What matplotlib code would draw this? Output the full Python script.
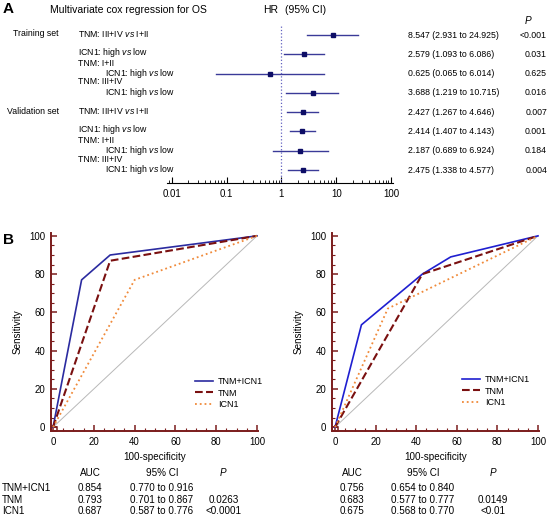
import matplotlib
matplotlib.use("Agg")
import matplotlib.pyplot as plt
from matplotlib.patches import Rectangle
from matplotlib.ticker import MultipleLocator, LogLocator, NullFormatter, FixedLocator

plt.rcParams['font.family'] = ['Liberation Sans', 'DejaVu Sans']
plt.rcParams['mathtext.fontset'] = 'custom'
plt.rcParams['mathtext.rm'] = 'Liberation Sans'
plt.rcParams['mathtext.it'] = 'Liberation Sans:italic'

# forest plot data (multivariate cox regression)
hr = [8.547, 2.579, 0.625, 3.688, 2.427, 2.414, 2.187, 2.475]
hr_lo = [2.931, 1.093, 0.065, 1.219, 1.267, 1.407, 0.689, 1.338]
hr_hi = [24.925, 6.086, 6.014, 10.715, 4.646, 4.143, 6.924, 4.577]
hr_p = ['<0.001', '0.031', '0.625', '0.016', '0.007', '0.001', '0.184', '0.004']
set_names = ['Training set', 'Validation set']
row_labels = [r'TNM: III+IV $\it{vs}$ I+II', r'ICN1: high $\it{vs}$ low',
              r'ICN1: high $\it{vs}$ low', r'ICN1: high $\it{vs}$ low']
sub_labels = ['TNM: I+II', 'TNM: III+IV']

# ROC curves (100-specificity, sensitivity)
roc_left = {
    'TNM+ICN1': ([0, 14, 28, 100], [0, 77, 90, 100]),
    'TNM': ([0, 28, 100], [0, 87, 100]),
    'ICN1': ([0, 40, 100], [0, 77, 100]),
}
roc_right = {
    'TNM+ICN1': ([0, 13, 43, 57, 100], [0, 53.5, 80, 89, 100]),
    'TNM': ([0, 43, 100], [0, 80, 100]),
    'ICN1': ([0, 26, 100], [0, 62, 100]),
}
auc_names = ['TNM+ICN1', 'TNM', 'ICN1']
auc_left = ['0.854', '0.793', '0.687']
ci_left = ['0.770 to 0.916', '0.701 to 0.867', '0.587 to 0.776']
p_left = ['', '0.0263', '<0.0001']
auc_right = ['0.756', '0.683', '0.675']
ci_right = ['0.654 to 0.840', '0.577 to 0.777', '0.568 to 0.770']
p_right = ['', '0.0149', '<0.01']

W, H = 548, 527
fig = plt.figure(figsize=(W / 100, H / 100), dpi=100)


def fx(x):
    return x / W


def fy(y):
    return 1 - y / H


def txt(x, y, s, **kw):
    kw.setdefault('fontsize', 6.3)
    kw.setdefault('va', 'center')
    fig.text(fx(x), fy(y), s, **kw)


# ---------- A: forest plot ----------
txt(3, 9, 'A', fontsize=11, fontweight='bold')
txt(50, 10, 'Multivariate cox regression for OS', fontsize=7.5)
txt(263, 10, 'HR', fontsize=7.5)
txt(285, 10, '(95% CI)', fontsize=7.5)
txt(528, 21, 'P', fontstyle='italic', ha='center', fontsize=7.2)

row_y = [35 + 19.3 * i for i in range(8)]
ax = fig.add_axes([fx(167), fy(183), fx(393) - fx(167), fy(25) - fy(183)])
ax.set_xscale('log')
ax.set_xlim(0.00811, 108.8)
ax.set_ylim(7.67, -0.52)
for i in range(8):
    ax.plot([hr_lo[i], hr_hi[i]], [i, i], color='#3a3a98', lw=1.0)
    ax.plot(hr[i], i, marker='s', ms=3.3, color='#0d0d66', ls='none')
ax.axvline(1, color='#6060c0', lw=0.9, ls=':')
for s in ['top', 'right', 'left']:
    ax.spines[s].set_visible(False)
ax.spines['bottom'].set_linewidth(0.8)
ax.set_yticks([])
ax.xaxis.set_major_locator(FixedLocator([0.01, 0.1, 1, 10, 100]))
ax.set_xticklabels(['0.01', '0.1', '1', '10', '100'])
ax.xaxis.set_minor_locator(LogLocator(base=10, subs=range(2, 10), numticks=20))
ax.xaxis.set_minor_formatter(NullFormatter())
ax.tick_params(axis='x', which='major', direction='in', length=4, width=0.8, labelsize=7, pad=4)
ax.tick_params(axis='x', which='minor', direction='in', length=2, width=0.6)

for k in range(2):
    r = row_y[4 * k:4 * k + 4]
    txt(13 if k == 0 else 7, r[0] - 1, set_names[k])
    txt(78, r[0] - 1, row_labels[0])
    txt(78, r[1] - 2, row_labels[1])
    txt(78, r[2] - 10, sub_labels[0])
    txt(105, r[2] - 0.5, row_labels[2])
    txt(78, r[3] - 11, sub_labels[1])
    txt(105, r[3] - 0.5, row_labels[3])

for i in range(8):
    txt(408, row_y[i], '%.3f (%.3f to %.3f)' % (hr[i], hr_lo[i], hr_hi[i]))
    txt(547, row_y[i], hr_p[i], ha='right')

# ---------- B: ROC curves ----------
txt(3, 240, 'B', fontsize=11, fontweight='bold')

spine_col = '#7b1c1c'
colors = {'TNM+ICN1': '#2b2ba0', 'TNM': '#7a1010', 'ICN1': '#f08a3a'}
styles = {'TNM+ICN1': '-', 'TNM': '--', 'ICN1': ':'}
widths = {'TNM+ICN1': 1.2, 'TNM': 1.5, 'ICN1': 1.3}


def roc_panel(left_px, right_px, x0, curves, blue, leg_x, leg_y):
    a = fig.add_axes([fx(left_px), fy(431), fx(right_px) - fx(left_px), fy(233) - fy(431)])
    a.set_xlim(x0, 100.5)
    a.set_ylim(-2, 101.5)
    a.plot([0, 100], [0, 100], color='#b8b8b8', lw=0.7)
    for name in auc_names:
        xs, ys = curves[name]
        c = blue if name == 'TNM+ICN1' else colors[name]
        a.plot(xs, ys, color=c, ls=styles[name], lw=widths[name], label=name)
    # small corner box where the spines meet
    a.add_patch(Rectangle((x0, -2), 2.8, 2.3, fill=False, edgecolor=spine_col,
                          lw=1.1, clip_on=False))
    for s in ['top', 'right']:
        a.spines[s].set_visible(False)
    for s in ['left', 'bottom']:
        a.spines[s].set_color(spine_col)
        a.spines[s].set_linewidth(1.4)
    a.xaxis.set_major_locator(MultipleLocator(20))
    a.yaxis.set_major_locator(MultipleLocator(20))
    a.xaxis.set_minor_locator(MultipleLocator(5))
    a.yaxis.set_minor_locator(MultipleLocator(5))
    a.tick_params(which='major', direction='in', length=4, width=1.1, color=spine_col,
                  labelsize=6.9, pad=4)
    a.tick_params(which='minor', direction='in', length=2, width=0.8, color=spine_col)
    a.set_xlabel('100-specificity', fontsize=7.1, labelpad=4)
    a.set_ylabel('Sensitivity', fontsize=7.1, labelpad=5)
    a.legend(loc='center left', bbox_to_anchor=(fx(leg_x), fy(leg_y)),
             bbox_transform=fig.transFigure, frameon=False, fontsize=6.5,
             borderpad=0, borderaxespad=0,
             handlelength=2.0, labelspacing=0.3, handletextpad=0.55)
    return a


roc_panel(51, 258, -1, roc_left, '#2b2ba0', 195, 393)
roc_panel(332, 539, -1.5, roc_right, '#1f1fd0', 462, 391)

# AUC tables
txt(90, 473, 'AUC', ha='center', fontsize=7.1)
txt(162, 473, '95% CI', ha='center', fontsize=7.1)
txt(223, 473, 'P', ha='center', fontstyle='italic', fontsize=7.1)
txt(352, 473, 'AUC', ha='center', fontsize=7.1)
txt(423, 473, '95% CI', ha='center', fontsize=7.1)
txt(493, 473, 'P', ha='center', fontstyle='italic', fontsize=7.1)
for i, yy in enumerate([488, 500, 511]):
    txt(2, yy, auc_names[i], fontsize=7.1)
    txt(90, yy, auc_left[i], ha='center', fontsize=7.1)
    txt(162, yy, ci_left[i], ha='center', fontsize=7.1)
    txt(224, yy, p_left[i], ha='center', fontsize=7.1)
    txt(352, yy, auc_right[i], ha='center', fontsize=7.1)
    txt(423, yy, ci_right[i], ha='center', fontsize=7.1)
    txt(493, yy, p_right[i], ha='center', fontsize=7.1)

fig.savefig('out.png', dpi=100)
